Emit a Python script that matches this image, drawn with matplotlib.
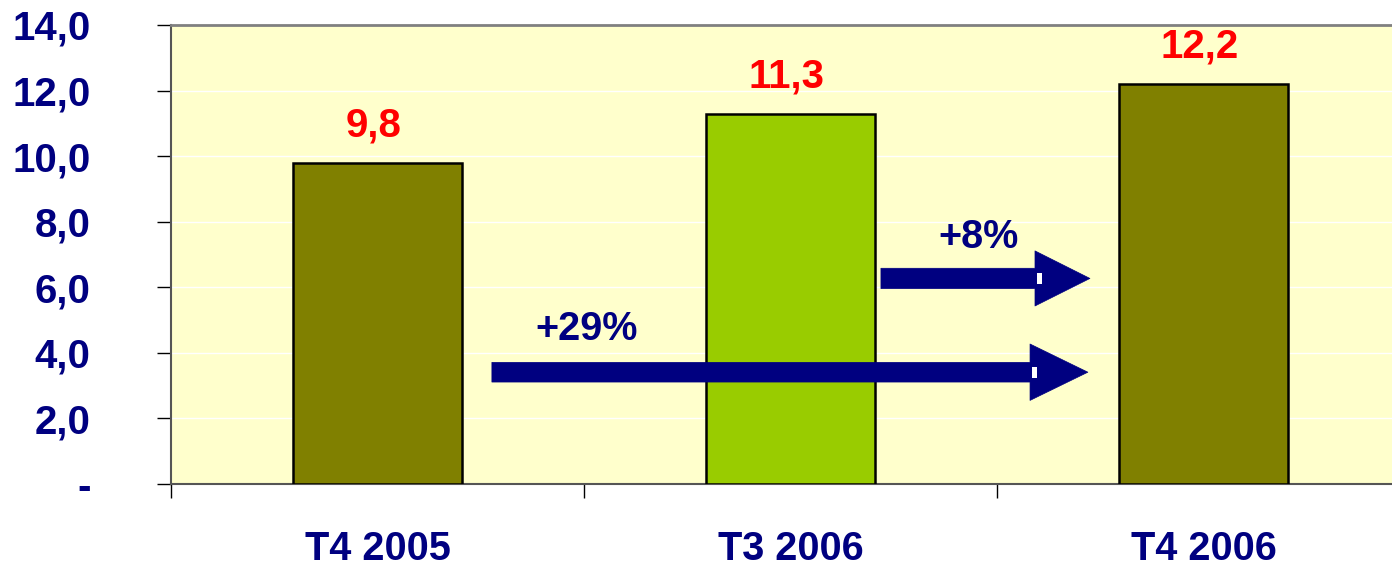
import matplotlib
matplotlib.use("Agg")
import matplotlib.pyplot as plt
from matplotlib.patches import Polygon, Rectangle

categories = ["T4 2005", "T3 2006", "T4 2006"]
values = [9.8, 11.3, 12.2]
value_labels = ["9,8", "11,3", "12,2"]
yticks = [0, 2, 4, 6, 8, 10, 12, 14]
ytick_labels = ["-", "2,0", "4,0", "6,0", "8,0", "10,0", "12,0", "14,0"]
growth_labels = ["+8%", "+29%"]

NAVY, RED, BG = "#000080", "#FF0000", "#FFFFCC"
OLIVE, LIME = "#808000", "#99CC00"
bar_colors = [OLIVE, LIME, OLIVE]

plt.rcParams.update({
    "font.family": "sans-serif", "font.sans-serif": ["Liberation Sans"],
    "font.weight": "bold",
})

fig = plt.figure(figsize=(13.92, 5.67), dpi=100)
ax = fig.add_axes([171 / 1392, 1 - 484 / 567, 1 - 171 / 1392, (484 - 25) / 567])
ax.set_facecolor(BG)

x = list(range(len(categories)))
ax.bar(x, values, width=0.407, color=bar_colors, edgecolor="black",
       linewidth=1.8, zorder=3)
for xi, v, lab in zip(x, values, value_labels):
    ax.text(xi - 0.01, v + 0.8, lab, ha="center", va="baseline", color=RED,
            fontsize=29, fontweight="bold")

# y axis
ax.set_yticks(yticks)
ax.set_yticklabels(ytick_labels)
ax.tick_params(axis="y", direction="out", length=10, width=1, color="black",
               pad=48, labelsize=29, labelcolor=NAVY)
for lab in ax.get_yticklabels():
    lab.set_fontweight("bold")
for yv in yticks[1:-1]:
    ax.axhline(yv, color="white", lw=1.0, zorder=1)

# x axis: ticks on category boundaries, labels centred
ax.set_xticks(x)
ax.set_xticklabels(categories)
ax.tick_params(axis="x", which="major", length=0, pad=33, labelsize=28.5,
               labelcolor=NAVY)
for lab in ax.get_xticklabels():
    lab.set_fontweight("bold")
ax.set_xticks([-0.5, 0.5, 1.5], minor=True)
ax.tick_params(axis="x", which="minor", direction="out", length=10, width=1,
               color="black")

ax.set_xlim(-0.5, -0.5 + 1221 / 413)
ax.set_ylim(0, 14)

ax.spines["right"].set_visible(False)
ax.spines["top"].set_color("#808080")
ax.spines["top"].set_linewidth(2)
ax.spines["left"].set_color("#555555")
ax.spines["left"].set_linewidth(1.5)
ax.spines["bottom"].set_color("#555555")
ax.spines["bottom"].set_linewidth(1.5)


def block_arrow(x0, xb, xt, yc, hw, hh):
    """PowerPoint-style block arrow with the little white notch."""
    pts = [(x0, yc - hw), (xb, yc - hw), (xb, yc - hh), (xt, yc),
           (xb, yc + hh), (xb, yc + hw), (x0, yc + hw)]
    ax.add_patch(Polygon(pts, closed=True, color=NAVY, zorder=5,
                         joinstyle="round", lw=0.5))
    ax.add_patch(Rectangle((xb + 0.004, yc - hw * 0.55), 0.012, hw * 1.1,
                           color="white", zorder=6, lw=0))


block_arrow(1.219, 1.592, 1.725, 6.27, 0.31, 0.84)
block_arrow(0.277, 1.580, 1.720, 3.41, 0.30, 0.86)
ax.text(1.454, 7.53, growth_labels[0], ha="center", va="center", color=NAVY,
        fontsize=28.5, fontweight="bold")
ax.text(0.507, 4.73, growth_labels[1], ha="center", va="center", color=NAVY,
        fontsize=28.5, fontweight="bold")

fig.savefig("out.png", dpi=100, facecolor="white")
